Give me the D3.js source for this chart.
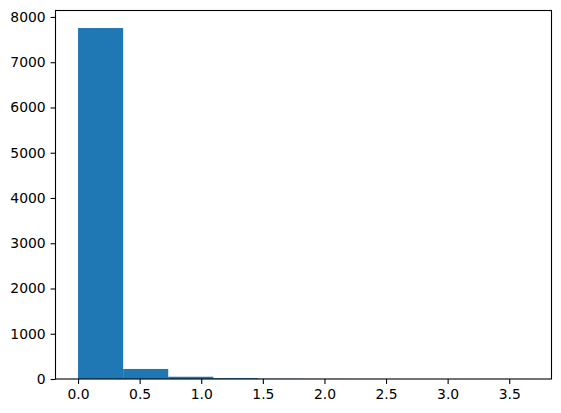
<!DOCTYPE html>
<html>
<head>
<meta charset="utf-8">
<script src="https://cdn.jsdelivr.net/npm/d3@7"></script>
<style>
body { margin: 0; background: #fff; }
text { font-family: "DejaVu Sans", sans-serif; font-size: 13.9px; fill: #000; }
</style>
</head>
<body>
<div id="chart"></div>
<script>
var w = 561;
var h = 413;

// histogram: 10 bins from 0 to 3.66
var binEdges = [0, 0.366, 0.732, 1.098, 1.464, 1.83, 2.196, 2.562, 2.928, 3.294, 3.66];
var counts = [7755, 222, 50, 20, 5, 2, 1, 0, 0, 1];
var xTicks = [0, 0.5, 1, 1.5, 2, 2.5, 3, 3.5];
var yTicks = [0, 1000, 2000, 3000, 4000, 5000, 6000, 7000, 8000];

var mLeft = 55.5, mTop = 10.5, mRight = 551.5, mBottom = 379;

var svg = d3.select("#chart")
  .append("svg")
  .attr("width", w)
  .attr("height", h);

var xmin = binEdges[0], xmax = binEdges[binEdges.length - 1];
var pad = (xmax - xmin) * 0.05;
var x = d3.scaleLinear().domain([xmin - pad, xmax + pad]).range([mLeft, mRight]);
var y = d3.scaleLinear().domain([0, d3.max(counts) * 1.05]).range([mBottom, mTop]);

var bins = counts.map(function(c, i){
  return { x0: binEdges[i], x1: binEdges[i + 1], n: c };
});

svg.selectAll("rect.bar")
  .data(bins)
  .enter()
  .append("rect")
  .attr("class", "bar")
  .attr("x", function(d){ return x(d.x0); })
  .attr("width", function(d){ return x(d.x1) - x(d.x0); })
  .attr("y", function(d){ return y(d.n); })
  .attr("height", function(d){ return mBottom - y(d.n); })
  .style("fill", "#1f77b4");

var xAxis = d3.axisBottom(x)
  .tickValues(xTicks)
  .tickFormat(d3.format(".1f"))
  .tickSize(4.9)
  .tickPadding(4.9);

var yAxis = d3.axisLeft(y)
  .tickValues(yTicks)
  .tickFormat(d3.format("d"))
  .tickSize(4.9)
  .tickPadding(4.9);

var gx = svg.append("g")
  .attr("transform", "translate(0," + mBottom + ")")
  .call(xAxis);
var gy = svg.append("g")
  .attr("transform", "translate(" + mLeft + ",0)")
  .call(yAxis);

[gx, gy].forEach(function(g){
  g.select(".domain").remove();
  g.selectAll("line").attr("stroke", "#000").attr("stroke-width", 1.1);
  g.selectAll("text").attr("font-size", null).attr("font-family", null).style("fill", "#000");
});

// frame
svg.append("rect")
  .attr("x", mLeft)
  .attr("y", mTop)
  .attr("width", mRight - mLeft)
  .attr("height", mBottom - mTop)
  .style("fill", "none")
  .style("stroke", "#000")
  .style("stroke-width", 1.1);
</script>
</body>
</html>
